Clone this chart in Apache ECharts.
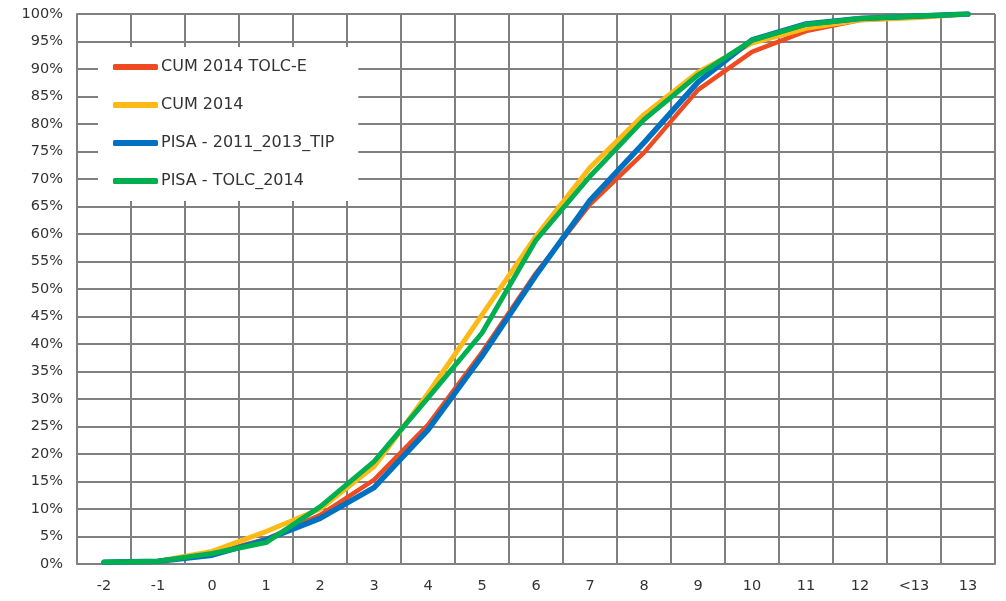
<!DOCTYPE html>
<html>
<head>
<meta charset="utf-8">
<script src="https://cdn.jsdelivr.net/npm/echarts@6/dist/echarts.min.js"></script>
<style>html,body{margin:0;padding:0;background:#fff}#c{width:1006px;height:601px}</style>
</head>
<body>
<div id="c"></div>
<script>
const categories = ['-2','-1','0','1','2','3','4','5','6','7','8','9','10','11','12','<13','13'];
const cumTolcE   = [0.3,0.5,1.9,4.5,8.9,15.3,25.3,38.5,52.9,65.4,74.8,86.2,93.1,96.9,98.9,99.4,100];
const cum2014    = [0.3,0.5,2.3,5.9,10.0,17.7,31.0,45.3,59.6,72.1,81.7,89.4,94.7,97.4,98.9,99.3,100];
const pisaTip    = [0.3,0.5,1.6,4.4,8.3,13.9,24.4,37.8,52.5,66.1,76.6,87.6,95.3,98.2,99.2,99.6,100];
const pisaTolc   = [0.3,0.5,1.9,3.9,10.4,18.6,30.2,42.0,58.9,70.5,80.8,88.9,95.2,98.1,99.2,99.6,100];
const yTicks = {min:0, max:100, interval:5};

const seriesDefs = [
  {name:'CUM 2014 TOLC-E', data:cumTolcE, color:'#EE4B22', width:4.5},
  {name:'CUM 2014', data:cum2014, color:'#FDBA16', width:5},
  {name:'PISA - 2011_2013_TIP', data:pisaTip, color:'#0070C0', width:5.5},
  {name:'PISA - TOLC_2014', data:pisaTolc, color:'#00B050', width:5}
];

const chart = echarts.init(document.getElementById('c'), null, {renderer:'canvas'});
const txt = '#333333';
const font = '"DejaVu Sans", sans-serif';
chart.setOption({
  animation:false,
  backgroundColor:'#fff',
  grid:{left:77, right:11, top:14, bottom:37, containLabel:false},
  legend:{
    orient:'vertical', left:98, top:47,
    backgroundColor:'#fff',
    padding:[10,24,10,15],
    itemWidth:45, itemHeight:6, itemGap:18,
    icon:'roundRect',
    textStyle:{color:txt, fontSize:16, fontFamily:font, lineHeight:20, padding:[0,0,0,-2]},
    data:seriesDefs.map(s=>s.name)
  },
  xAxis:{
    type:'category', data:categories, boundaryGap:true,
    axisLine:{show:true, lineStyle:{color:'#808080', width:2}},
    axisTick:{show:false},
    axisLabel:{color:txt, fontSize:14.5, fontFamily:font, margin:15, interval:0},
    splitLine:{show:true, interval:0, lineStyle:{color:'#808080', width:2}}
  },
  yAxis:{
    type:'value', min:yTicks.min, max:yTicks.max, interval:yTicks.interval,
    axisLine:{show:true, lineStyle:{color:'#808080', width:2}},
    axisTick:{show:false},
    axisLabel:{color:txt, fontSize:14.5, fontFamily:font, margin:14, formatter:v=>v+'%'},
    splitLine:{show:true, lineStyle:{color:'#808080', width:2}}
  },
  series:seriesDefs.map(s=>({
    name:s.name, type:'line', data:s.data, symbol:'none', smooth:false,
    color:s.color,
    lineStyle:{color:s.color, width:s.width, cap:'round', join:'round'},
    itemStyle:{color:s.color}
  }))
});
</script>
</body>
</html>
